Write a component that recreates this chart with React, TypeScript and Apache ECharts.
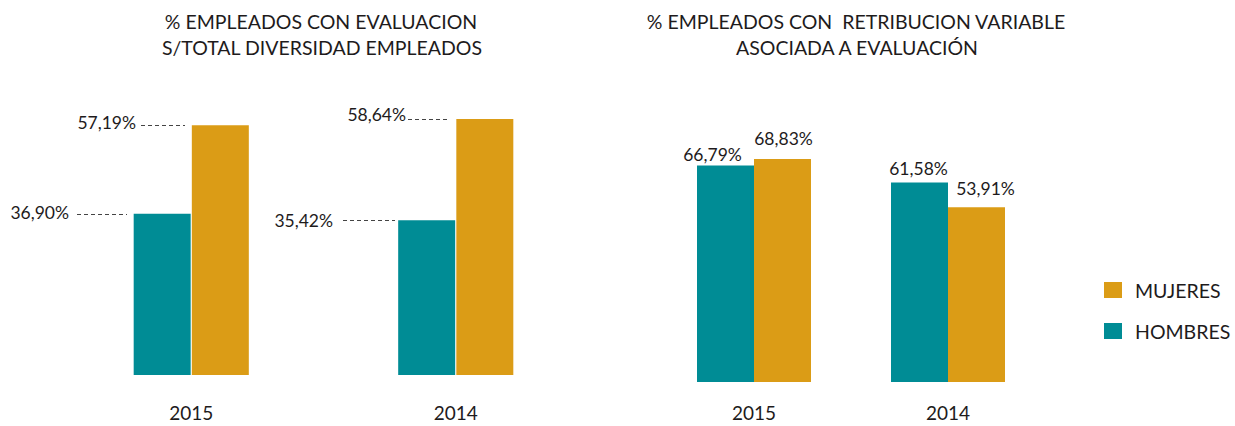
import React, { useEffect, useRef } from "react";
import * as echarts from "echarts";

// ---- data ----
const years = ["2015", "2014"];
const evalHombres = [36.9, 35.42];
const evalMujeres = [57.19, 58.64];
const retribHombres = [66.79, 61.58];
const retribMujeres = [68.83, 53.91];
const legendNames = ["MUJERES", "HOMBRES"];
const titleLeft = ["% EMPLEADOS CON EVALUACION", "S/TOTAL DIVERSIDAD EMPLEADOS"];
const titleRight = ["% EMPLEADOS CON  RETRIBUCION VARIABLE", "ASOCIADA A EVALUACIÓN"];

// ---- styles / layout ----
const TEAL = "#008c95";
const GOLD = "#db9c16";
const TEXT = "#1e1b1c";
const FONT = "Lato";

// leader lines for left chart: [startX, endX, labelDistance, labelDy]
const leaderH = [
  [77, 127, 8, -1],
  [343, 395, 10, 0],
];
const leaderM = [
  [141, 185, 5, -3],
  [408, 448, 2, -4],
];
const rightLabelOffH = [
  [-13, 1],
  [-1, -2],
];
const rightLabelOffM = [
  [1, -8],
  [9, -7],
];

const fmt = (v: number) => v.toFixed(2).replace(".", ",") + "%";

function leaderData(vals: number[], lay: number[][]) {
  return years.map((y, i) => [
    {
      coord: [y, vals[i]],
      x: lay[i][0],
      label: {
        show: true,
        position: "start",
        distance: lay[i][2],
        offset: [0, lay[i][3]],
        formatter: fmt(vals[i]),
        color: TEXT,
        fontFamily: FONT,
        fontSize: 17.5,
      },
    },
    { coord: [y, vals[i]], x: lay[i][1] },
  ]);
}

export default function App() {
  const ref = useRef<HTMLDivElement>(null);
  useEffect(() => {
    if (!ref.current) return;
    const chart = echarts.init(ref.current, null, { renderer: "svg" });
    const axisLabel = (margin: number) => ({
      color: TEXT,
      fontFamily: FONT,
      fontSize: 19,
      margin,
    });
    const titleText = (text: string, x: number, y: number) => ({
      type: "text",
      x,
      y,
      style: {
        text,
        fill: TEXT,
        font: `19.5px ${FONT}`,
        align: "center",
        verticalAlign: "middle",
      },
    });
    const markLineBase = {
      symbol: "none",
      silent: true,
      animation: false,
      lineStyle: { color: "#444", width: 1, type: [4, 3] },
    };
    const barLabel = {
      show: true,
      position: "top",
      distance: 3,
      color: TEXT,
      fontFamily: FONT,
      fontSize: 17.5,
      formatter: (p: any) => fmt(p.value),
    };
    chart.setOption({
      animation: false,
      backgroundColor: "#ffffff",
      textStyle: { fontFamily: FONT },
      graphic: [
        titleText(titleLeft[0], 321, 21),
        titleText(titleLeft[1], 322, 47),
        titleText(titleRight[0], 856, 21),
        titleText(titleRight[1], 857, 47),
      ],
      legend: {
        data: legendNames,
        orient: "vertical",
        left: 1104,
        top: 280,
        padding: 0,
        itemWidth: 18,
        itemHeight: 16,
        itemGap: 21,
        icon: "rect",
        textStyle: { color: TEXT, fontFamily: FONT, fontSize: 19.5, padding: [0, 0, 0, 8] },
      },
      grid: [
        { left: 59, top: 113, width: 529, height: 262 },
        { left: 657, top: 58, width: 388, height: 324 },
      ],
      xAxis: [
        {
          type: "category",
          gridIndex: 0,
          data: years,
          axisLine: { show: false },
          axisTick: { show: false },
          axisLabel: axisLabel(28),
        },
        {
          type: "category",
          gridIndex: 1,
          data: years,
          axisLine: { show: false },
          axisTick: { show: false },
          axisLabel: axisLabel(21),
        },
      ],
      yAxis: [
        { type: "value", gridIndex: 0, min: 0, max: 60, show: false },
        { type: "value", gridIndex: 1, min: 0, max: 100, show: false },
      ],
      series: [
        {
          name: "HOMBRES",
          type: "bar",
          xAxisIndex: 0,
          yAxisIndex: 0,
          data: evalHombres,
          barWidth: 57,
          barGap: "2%",
          itemStyle: { color: TEAL },
          markLine: { ...markLineBase, data: leaderData(evalHombres, leaderH) },
        },
        {
          name: "MUJERES",
          type: "bar",
          xAxisIndex: 0,
          yAxisIndex: 0,
          data: evalMujeres,
          barWidth: 57,
          barGap: "2%",
          itemStyle: { color: GOLD },
          markLine: { ...markLineBase, data: leaderData(evalMujeres, leaderM) },
        },
        {
          name: "HOMBRES",
          type: "bar",
          xAxisIndex: 1,
          yAxisIndex: 1,
          barWidth: 57,
          barGap: "0%",
          itemStyle: { color: TEAL },
          data: retribHombres.map((v, i) => ({
            value: v,
            label: { offset: rightLabelOffH[i] },
          })),
          label: barLabel,
        },
        {
          name: "MUJERES",
          type: "bar",
          xAxisIndex: 1,
          yAxisIndex: 1,
          barWidth: 57,
          barGap: "0%",
          itemStyle: { color: GOLD },
          data: retribMujeres.map((v, i) => ({
            value: v,
            label: { offset: rightLabelOffM[i] },
          })),
          label: barLabel,
        },
      ],
    });
    return () => chart.dispose();
  }, []);
  return (
    <div
      ref={ref}
      style={{ position: "absolute", left: 0, top: 0, width: 1235, height: 426 }}
    />
  );
}
